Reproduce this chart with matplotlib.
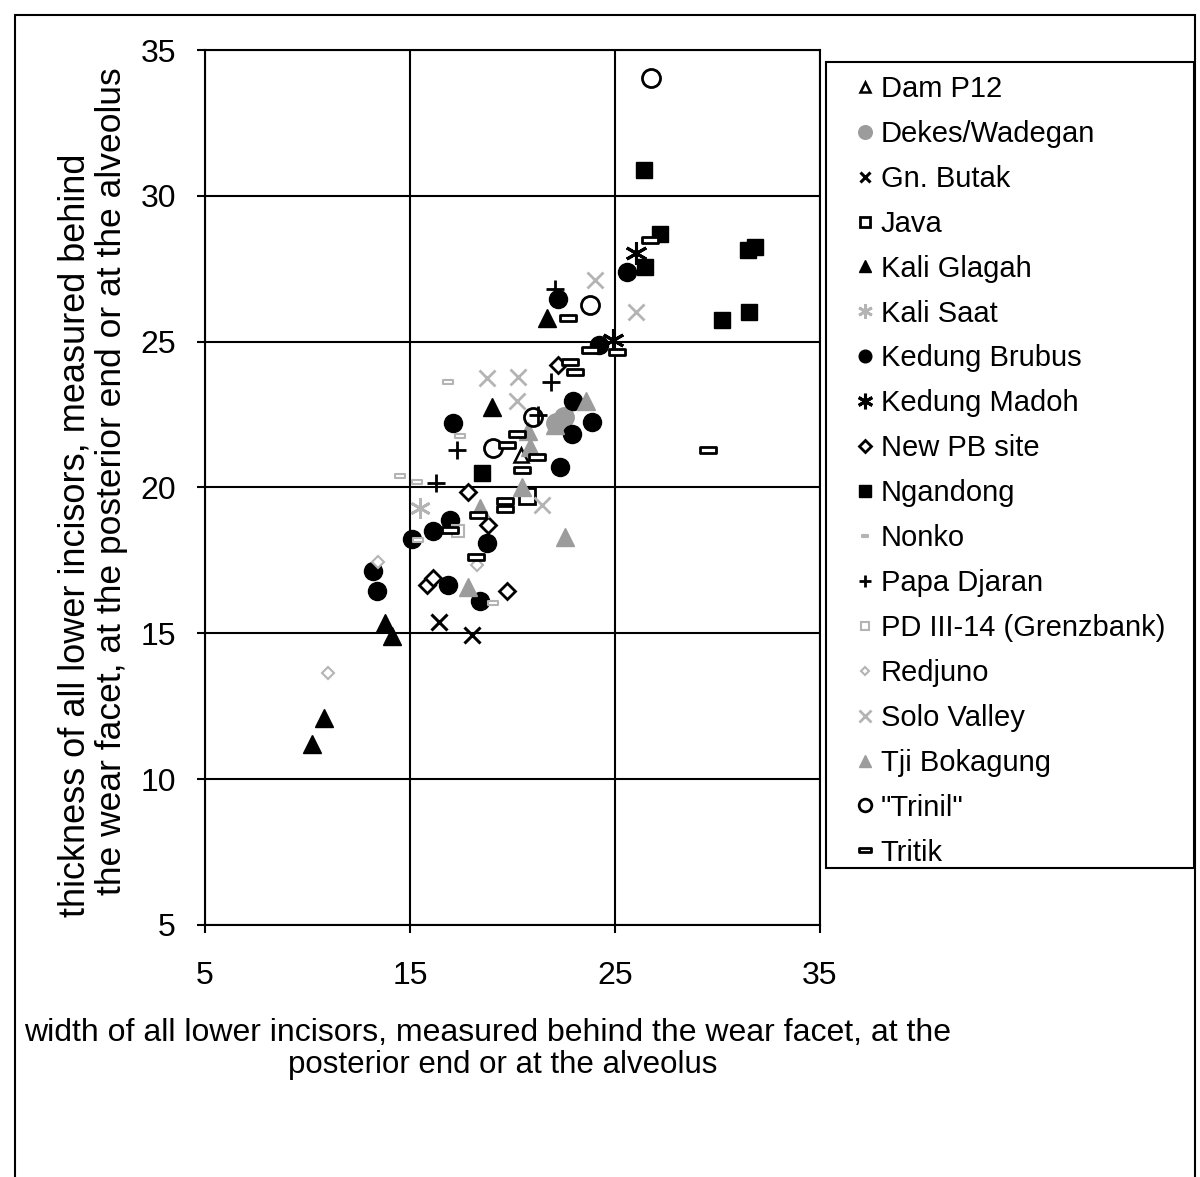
import matplotlib
matplotlib.use("Agg")
import matplotlib.pyplot as plt
from matplotlib.path import Path
from matplotlib.patches import Rectangle

plt.rcParams["font.family"] = ["Liberation Sans", "DejaVu Sans"]

# ---------------------------------------------------------------
# data (width, thickness in mm)
# ---------------------------------------------------------------
dam_x = [20.4]
dam_y = [21.1]
dekes_x = [22.1, 22.5]
dekes_y = [22.2, 22.4]
butak_x = [16.4, 18.0]
butak_y = [15.4, 14.95]
java_x = [20.7]
java_y = [19.7]
glagah_x = [10.2, 10.8, 13.8, 14.1, 19.0, 21.7]
glagah_y = [11.2, 12.1, 15.35, 14.9, 22.75, 25.8]
kalisaat_x = [15.5]
kalisaat_y = [19.3]
brubus_x = [13.2, 13.4, 15.1, 16.1, 16.95, 16.85, 18.4, 18.75, 17.1, 22.3,
            22.9, 23.9, 22.95, 22.2, 24.2, 25.6]
brubus_y = [17.15, 16.45, 18.25, 18.5, 18.9, 16.65, 16.1, 18.1, 22.2, 20.7,
            21.85, 22.25, 22.95, 26.45, 24.9, 27.4]
madoh_x = [26.0, 24.9]
madoh_y = [28.05, 25.05]
newpb_x = [15.85, 16.1, 18.8, 17.85, 19.75, 22.2]
newpb_y = [16.65, 16.9, 18.7, 19.85, 16.45, 24.2]
ngandong_x = [18.5, 26.4, 27.2, 26.45, 31.5, 31.85, 30.2, 31.55]
ngandong_y = [20.5, 30.9, 28.7, 27.55, 28.15, 28.25, 25.75, 26.0]
nonko_x = [16.85, 17.45, 14.5, 15.35, 15.4, 19.05]
nonko_y = [23.6, 21.75, 20.4, 20.2, 18.2, 16.05]
papa_x = [21.9, 17.3, 16.25, 21.25, 22.05]
papa_y = [23.6, 21.3, 20.15, 22.5, 26.8]
pd_x = [17.35]
pd_y = [18.5]
redjuno_x = [11.0, 13.45, 18.25]
redjuno_y = [13.65, 17.45, 17.35]
solo_x = [18.75, 20.25, 20.2, 21.45, 24.0, 26.0]
solo_y = [23.75, 23.8, 22.95, 19.4, 27.1, 26.0]
tji_x = [17.85, 22.55, 20.45, 20.85, 20.75, 23.6, 22.05, 18.4]
tji_y = [16.6, 18.3, 20.0, 21.4, 21.95, 22.95, 22.15, 19.3]
trinil_x = [26.75, 23.8, 21.0, 19.05]
trinil_y = [34.05, 26.25, 22.4, 21.35]
tritik_x = [29.55, 26.7, 22.7, 23.8, 25.1, 22.8, 23.05, 20.2, 19.75, 21.2,
            20.45, 19.65, 19.65, 18.3, 16.95, 18.2]
tritik_y = [21.3, 28.5, 25.8, 24.7, 24.65, 24.3, 23.95, 21.85, 21.45, 21.05,
            20.6, 19.55, 19.25, 19.05, 18.55, 17.6]

x_ticks = [5, 15, 25, 35]
y_ticks = [5, 10, 15, 20, 25, 30, 35]

# flat box marker used for Tritik / Nonko
box = Path([(-1, -0.4), (1, -0.4), (1, 0.4), (-1, 0.4), (-1, -0.4)],
           [Path.MOVETO, Path.LINETO, Path.LINETO, Path.LINETO, Path.CLOSEPOLY])
asterisk = (6, 2, 0)

K = "black"
G1 = "#9c9c9c"   # mid grey
G2 = "#b4b4b4"   # light grey

# label, x, y, style
series = [
    ("Dam P12", dam_x, dam_y, dict(marker="^", ms=10, mfc="white", mec=K, mew=1.8)),
    ("Dekes/Wadegan", dekes_x, dekes_y, dict(marker="o", ms=14, mfc=G1, mec=G1)),
    ("Gn. Butak", butak_x, butak_y, dict(marker="x", ms=11, mec=K, mew=2.2)),
    ("Java", java_x, java_y, dict(marker="s", ms=11, mfc="white", mec=K, mew=2)),
    ("Kali Glagah", glagah_x, glagah_y, dict(marker="^", ms=13, mfc=K, mec=K)),
    ("Kali Saat", kalisaat_x, kalisaat_y, dict(marker=asterisk, ms=15, mec=G2, mew=2)),
    ("Kedung Brubus", brubus_x, brubus_y, dict(marker="o", ms=13, mfc=K, mec=K)),
    ("Kedung Madoh", madoh_x, madoh_y, dict(marker=asterisk, ms=16, mec=K, mew=2.2)),
    ("New PB site", newpb_x, newpb_y, dict(marker="D", ms=8.5, mfc="white", mec=K, mew=2)),
    ("Ngandong", ngandong_x, ngandong_y, dict(marker="s", ms=11.5, mfc=K, mec=K)),
    ("Nonko", nonko_x, nonko_y, dict(marker=box, ms=7, mfc="white", mec=G2, mew=1.5)),
    ("Papa Djaran", papa_x, papa_y, dict(marker="+", ms=13, mec=K, mew=2)),
    ("PD III-14 (Grenzbank)", pd_x, pd_y, dict(marker="s", ms=9, mfc="white", mec=G2, mew=1.5)),
    ("Redjuno", redjuno_x, redjuno_y, dict(marker="D", ms=6.5, mfc="white", mec=G2, mew=1.5)),
    ("Solo Valley", solo_x, solo_y, dict(marker="x", ms=12, mec=G2, mew=2)),
    ("Tji Bokagung", tji_x, tji_y, dict(marker="^", ms=13, mfc=G1, mec=G1)),
    ('"Trinil"', trinil_x, trinil_y, dict(marker="o", ms=13, mfc="none", mec=K, mew=2)),
    ("Tritik", tritik_x, tritik_y, dict(marker=box, ms=12, mfc="white", mec=K, mew=2)),
]

W, H = 1200, 1177
fig = plt.figure(figsize=(12, 11.77), dpi=100)
ax = fig.add_axes([205 / W, 1 - 925 / H, 615 / W, 875 / H])

for label, xs, ys, st in series:
    ax.plot(xs, ys, ls="none", label=label, **st)

ax.set_xlim(5, 35)
ax.set_ylim(5, 35)
ax.set_xticks(x_ticks)
ax.set_yticks(y_ticks)
ax.grid(True, color="black", linewidth=1.5)
ax.set_axisbelow(True)
for sp in ax.spines.values():
    sp.set_color("black")
    sp.set_linewidth(1.5)
ax.tick_params(axis="both", labelsize=23, length=6, width=1.5, direction="out")
ax.tick_params(axis="y", pad=15)
ax.tick_params(axis="x", pad=20)

# axis titles (two lines each, placed like the original)
fig.text(488 / W, 1 - 1033 / H,
         "width of all lower incisors, measured behind the wear facet, at the",
         ha="center", va="center", fontsize=23)
fig.text(503 / W, 1 - 1065 / H, "posterior end or at the alveolus",
         ha="center", va="center", fontsize=22.5)
fig.text(75 / W, 1 - 535 / H, "thickness of all lower incisors, measured behind",
         ha="center", va="center", rotation=90, fontsize=26)
fig.text(112 / W, 1 - 481 / H,
         "the wear facet, at the posterior end or at the alveolus",
         ha="center", va="center", rotation=90, fontsize=25.5)

# legend: frameless, box drawn separately so the padding can match
h, l = ax.get_legend_handles_labels()
leg = fig.legend(h, l, loc="upper left", bbox_to_anchor=(856 / W, 1 - 75 / H),
                 borderaxespad=0, borderpad=0, fontsize=21, frameon=False,
                 markerscale=0.7, handlelength=0.6, handletextpad=0.25,
                 labelspacing=0.58)
fig.patches.append(Rectangle((826 / W, 1 - 868 / H), 368 / W, 806 / H,
                             transform=fig.transFigure, fill=False,
                             edgecolor="black", linewidth=1.5))

# outer chart border
fig.patches.append(Rectangle((15 / W, -0.02), 1180 / W, 1 - 15 / H + 0.02,
                             transform=fig.transFigure, fill=False,
                             edgecolor="black", linewidth=1.5))

fig.savefig("out.png", dpi=100)
